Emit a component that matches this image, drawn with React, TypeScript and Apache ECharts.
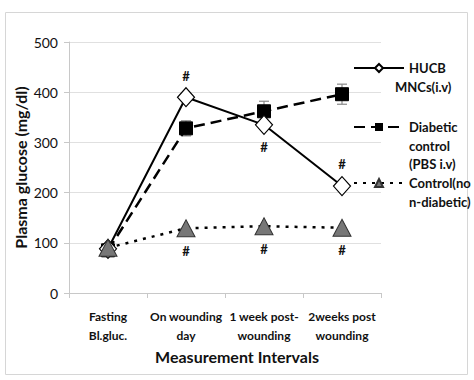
import React, { useEffect, useRef } from "react";
import * as echarts from "echarts";

const categories = ["Fasting\nBl.gluc.", "On wounding\nday", "1 week post-\nwounding", "2weeks post\nwounding"];
const hucb = [88, 390, 335, 213];
const diabetic = [85, 328, 362, 396];
const diabeticErr = [0, 15, 20, 20];
const control = [90, 129, 133, 130];
const yTicks = [0, 100, 200, 300, 400, 500];
const seriesNames = ["HUCB MNCs(i.v)", "Diabetic control (PBS i.v)", "Control(non-diabetic)"];
const legendLines = [["HUCB"], ["Diabetic", "control", "(PBS i.v)"], ["Control(no", "n-diabetic)"]];
const hucbSecondLine = "MNCs(i.v)";

const FONT = "Lato";

export default function App() {
  const ref = useRef<HTMLDivElement>(null);
  useEffect(() => {
    if (!ref.current) return;
    const chart = echarts.init(ref.current, undefined, { renderer: "svg" });
    const lh = 18.5;
    const mkLegend = (idx: number, centerY: number) => {
      const lines = legendLines[idx];
      const n = lines.length;
      const txt = "\n".repeat(n - 1) + lines.join("\n");
      return {
        data: [seriesNames[idx]],
        formatter: () => txt,
        left: 353,
        top: centerY - ((2 * n - 1) * lh) / 2,
        padding: 0,
        orient: "vertical",
        itemWidth: 50,
        itemHeight: 10,
        selectedMode: false,
        textStyle: {
          fontFamily: FONT,
          fontWeight: "bold",
          fontSize: 13,
          color: "#111",
          lineHeight: lh,
        },
      };
    };
    const errData = diabetic.map((v, i) => [i, v - diabeticErr[i], v + diabeticErr[i]]).filter((d, i) => diabeticErr[i] > 0);
    const hashLabel = (pos: string, dist: number) => ({
      show: true,
      formatter: "#",
      position: pos,
      distance: dist,
      fontFamily: FONT,
      fontWeight: "bold",
      fontSize: 13,
      color: "#111",
    });
    chart.setOption({
      animation: false,
      backgroundColor: "#fff",
      graphic: [
        {
          type: "rect",
          shape: { x: 5.5, y: 12.5, width: 462, height: 362 },
          style: { fill: "none", stroke: "#d6d6d6", lineWidth: 1 },
          silent: true,
        },
        {
          type: "text",
          left: 395,
          top: 87 - lh / 2,
          style: {
            text: hucbSecondLine,
            fontFamily: FONT,
            fontWeight: "bold",
            fontSize: 13,
            fill: "#111",
            lineHeight: lh,
          },
        },
      ],
      legend: [mkLegend(0, 68), mkLegend(1, 127), mkLegend(2, 183)],
      grid: { left: 69, right: 93, top: 42, bottom: 87 },
      xAxis: {
        type: "category",
        data: categories,
        boundaryGap: true,
        name: "Measurement Intervals",
        nameLocation: "middle",
        nameGap: 55,
        nameMoveOverlap: false,
        nameTextStyle: {
          fontFamily: FONT,
          fontWeight: "bold",
          fontSize: 16,
          color: "#111",
          padding: [0, 0, 0, 24],
        },
        axisLine: { lineStyle: { color: "#c8c8c8" } },
        axisTick: { show: true, length: 5, lineStyle: { color: "#c8c8c8" } },
        axisLabel: {
          interval: 0,
          margin: 14,
          fontFamily: FONT,
          fontWeight: "bold",
          fontSize: 12,
          lineHeight: 19,
          color: "#111",
        },
      },
      yAxis: {
        type: "value",
        min: 0,
        max: 500,
        interval: 100,
        name: "Plasma glucose (mg/dl)",
        nameLocation: "middle",
        nameGap: 41,
        nameMoveOverlap: false,
        nameTextStyle: { fontFamily: FONT, fontWeight: "bold", fontSize: 16, color: "#111" },
        axisLine: { show: true, lineStyle: { color: "#c8c8c8" } },
        axisTick: { show: true, length: 5, lineStyle: { color: "#c8c8c8" } },
        splitLine: { lineStyle: { color: "#e0e0e0" } },
        axisLabel: {
          margin: 11,
          fontFamily: FONT,
          fontSize: 14,
          color: "#111",
          formatter: (v: number) => (yTicks.includes(v) ? String(v) : ""),
        },
      },
      series: [
        {
          name: seriesNames[1],
          type: "line",
          data: diabetic,
          symbol: "rect",
          symbolSize: 13,
          itemStyle: { color: "#000", borderColor: "#000" },
          lineStyle: { color: "#000", width: 2.5, type: [11, 6] },
          z: 3,
        },
        {
          name: "err",
          type: "custom",
          data: errData,
          z: 2,
          renderItem: (params: any, api: any) => {
            const x = api.value(0);
            const lo = api.coord([x, api.value(1)]);
            const hi = api.coord([x, api.value(2)]);
            const hw = 5;
            const st = { stroke: "#888", lineWidth: 1.2 };
            return {
              type: "group",
              children: [
                { type: "line", shape: { x1: lo[0], y1: lo[1], x2: hi[0], y2: hi[1] }, style: st },
                { type: "line", shape: { x1: lo[0] - hw, y1: lo[1], x2: lo[0] + hw, y2: lo[1] }, style: st },
                { type: "line", shape: { x1: hi[0] - hw, y1: hi[1], x2: hi[0] + hw, y2: hi[1] }, style: st },
              ],
            };
          },
        },
        {
          name: seriesNames[0],
          type: "line",
          data: hucb.map((v, i) => ({
            value: v,
            label: i === 0 ? { show: false } : i === 2 ? hashLabel("bottom", 6) : hashLabel("top", 5),
          })),
          symbol: "diamond",
          symbolSize: [17, 19],
          itemStyle: { color: "#fff", borderColor: "#000", borderWidth: 1.2 },
          lineStyle: { color: "#000", width: 2 },
          z: 4,
        },
        {
          name: seriesNames[2],
          type: "line",
          data: control.map((v, i) => ({
            value: v,
            label: i === 0 ? { show: false } : hashLabel("bottom", 7),
          })),
          symbol: "triangle",
          symbolSize: [18, 17],
          itemStyle: { color: "#777", borderColor: "#333", borderWidth: 1 },
          lineStyle: { color: "#000", width: 2.5, type: [3, 6] },
          z: 5,
        },
      ],
    });
    return () => chart.dispose();
  }, []);
  return <div ref={ref} style={{ position: "fixed", left: 0, top: 0, width: 474, height: 380 }} />;
}
